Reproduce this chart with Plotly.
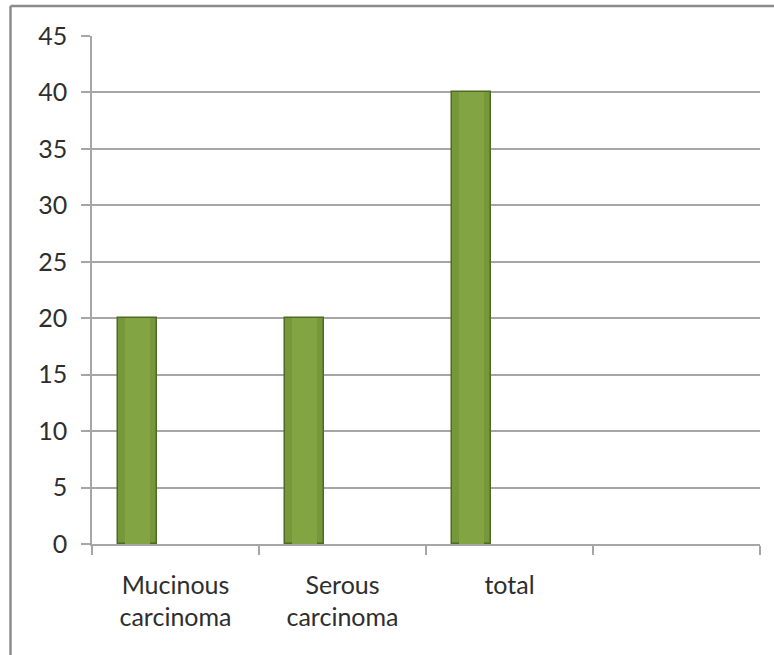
import plotly.graph_objects as go

# Chart data
categories = ["Mucinous<br>carcinoma", "Serous<br>carcinoma", "total", " "]
counts = [20, 20, 40, None]
y_ticks = [0, 5, 10, 15, 20, 25, 30, 35, 40, 45]

W, H = 774, 655
ML, MR, MT, MB = 92, 14, 36, 111
GRID = "#a6a6a6"
TEXT = "#2e2e2e"
FONT = "Lato, 'Open Sans', sans-serif"
FS = 25

fig = go.Figure()

fig.add_trace(go.Bar(
    x=categories,
    y=counts,
    offset=-0.344,
    width=0.234,
    marker=dict(color="#76983a", line=dict(color="#4f6a24", width=1.5)),
    showlegend=False,
    hoverinfo="x+y",
))

# Lighter inner band to give the columns a rounded look
fig.add_trace(go.Bar(
    x=categories,
    y=counts,
    offset=-0.344 + 0.04,
    width=0.234 - 0.08,
    marker=dict(color="#82a442", line=dict(width=0)),
    showlegend=False,
    hoverinfo="skip",
))

# Outer chart border (top and left edges visible within the frame)
pw = W - ML - MR
ph = H - MT - MB
bx = (10.5 - ML) / pw
by = 1 + (MT - 6) / ph
fig.add_shape(type="line", xref="paper", yref="paper",
              x0=bx, x1=(W + 5 - ML) / pw, y0=by, y1=by,
              line=dict(color="#8c8c8c", width=2.5))
fig.add_shape(type="line", xref="paper", yref="paper",
              x0=bx, x1=bx, y0=by, y1=-(MB + 5) / ph,
              line=dict(color="#8c8c8c", width=2.5))

fig.update_layout(
    width=W, height=H,
    margin=dict(l=ML, r=MR, t=MT, b=MB),
    paper_bgcolor="white",
    plot_bgcolor="white",
    font=dict(family=FONT, size=FS, color=TEXT),
    bargap=0,
    barmode="overlay",
)

fig.update_xaxes(
    type="category",
    categoryorder="array",
    categoryarray=categories,
    range=[-0.5, 3.5],
    tickson="boundaries",
    ticks="outside",
    ticklen=9,
    tickwidth=1.5,
    tickcolor=GRID,
    showline=True,
    linecolor=GRID,
    linewidth=1.5,
    showgrid=False,
    ticklabelstandoff=18,
    tickfont=dict(family=FONT, size=FS, color=TEXT),
)

fig.update_yaxes(
    range=[0, 45],
    tickvals=y_ticks,
    ticks="outside",
    ticklen=9,
    tickwidth=1.5,
    tickcolor=GRID,
    showline=True,
    linecolor=GRID,
    linewidth=1.5,
    showgrid=True,
    gridcolor=GRID,
    gridwidth=1.5,
    zeroline=False,
    ticklabelstandoff=9,
    tickfont=dict(family=FONT, size=FS, color=TEXT),
)

fig.write_html("out.html")
